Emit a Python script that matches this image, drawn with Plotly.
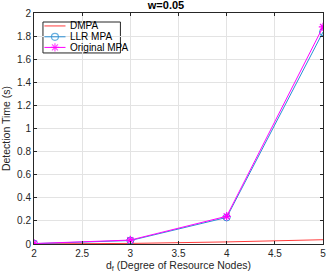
import plotly.graph_objects as go

df = [2, 3, 4, 5]
dmpa = [0.001, 0.005, 0.018, 0.037]
llr_mpa = [0.003, 0.030, 0.230, 1.835]
orig_mpa = [0.004, 0.034, 0.240, 1.880]
x_ticks = [2, 2.5, 3, 3.5, 4, 4.5, 5]
y_ticks = [0, 0.2, 0.4, 0.6, 0.8, 1, 1.2, 1.4, 1.6, 1.8, 2]
series_names = ["DMPA", "LLR MPA", "Original MPA"]

RED, BLUE, MAG = "#ff3b3b", "#2a8fd4", "#ff00ff"
colors = [RED, BLUE, MAG]
symbols = [None, "circle-open", "asterisk-open"]

fig = go.Figure()
fig.add_trace(go.Scatter(x=df, y=dmpa, mode="lines", name=series_names[0],
                         line=dict(color=RED, width=1), showlegend=False))
fig.add_trace(go.Scatter(x=df, y=llr_mpa, mode="lines+markers", name=series_names[1],
                         line=dict(color=BLUE, width=1), showlegend=False,
                         marker=dict(symbol="circle-open", size=7, color=BLUE, line=dict(width=1))))
fig.add_trace(go.Scatter(x=df, y=orig_mpa, mode="lines+markers", name=series_names[2],
                         line=dict(color=MAG, width=1), showlegend=False,
                         marker=dict(symbol="asterisk-open", size=7, color=MAG, line=dict(width=1.2, color=MAG))))

# compact MATLAB-style legend (box, key lines with markers, labels)
lx0, lx1, ly0, ly1 = 0.031, 0.299, 0.827, 0.961
rows = [0.944, 0.897, 0.851]
kx0, kx1, kxm, tx = 0.036, 0.109, 0.0725, 0.117
shapes = [dict(type="rect", xref="paper", yref="paper", x0=lx0, x1=lx1, y0=ly0, y1=ly1,
               line=dict(color="#262626", width=1), fillcolor="white", layer="between")]
annotations = []
for name, c, sym, ry in zip(series_names, colors, symbols, rows):
    annotations.append(dict(text=name, xref="paper", yref="paper", x=tx, y=ry, xanchor="left",
                            yanchor="middle", showarrow=False, font=dict(size=10, color="black")))
    fig.add_trace(go.Scatter(x=[kx0, kxm, kx1], y=[ry, ry, ry],
                             mode="lines+markers" if sym else "lines",
                             xaxis="x2", yaxis="y2", showlegend=False, hoverinfo="skip",
                             line=dict(color=c, width=1),
                             marker=dict(symbol=sym or "circle", size=[0, 7, 0], color=c,
                                         line=dict(width=1.2, color=c))))

axis_common = dict(showgrid=True, gridcolor="#e3e3e3", gridwidth=1, showline=True, linecolor="#262626",
                   linewidth=1, mirror="ticks", ticks="inside", ticklen=3, tickcolor="#262626",
                   zeroline=False, tickfont=dict(size=10, color="#262626"))

fig.update_layout(
    width=332, height=275,
    margin=dict(l=32, r=6, t=13, b=31),
    paper_bgcolor="white", plot_bgcolor="white",
    font=dict(family="Liberation Sans, Arial, sans-serif", color="#262626", size=10),
    title=dict(text="<b>w=0.05</b>", x=0.5, xanchor="center", y=0.995, yanchor="top",
               font=dict(size=11, color="black")),
    xaxis=dict(range=[2, 5], tickvals=x_ticks, ticktext=[str(v) for v in x_ticks],
               title=dict(text="d<sub>f</sub> (Degree of Resource Nodes)", standoff=2, font=dict(size=10.5)),
               **axis_common),
    yaxis=dict(range=[0, 2], tickvals=y_ticks, ticktext=[str(v) for v in y_ticks],
               title=dict(text="Detection Time (s)", standoff=4, font=dict(size=10.5)),
               **axis_common),
    xaxis2=dict(overlaying="x", range=[0, 1], visible=False, fixedrange=True),
    yaxis2=dict(overlaying="y", range=[0, 1], visible=False, fixedrange=True),
    shapes=shapes,
    annotations=annotations,
    showlegend=False,
)

fig.write_html("out.html", config={"displayModeBar": False},
               post_script="document.body.style.margin='0px';document.body.style.padding='0px';")
